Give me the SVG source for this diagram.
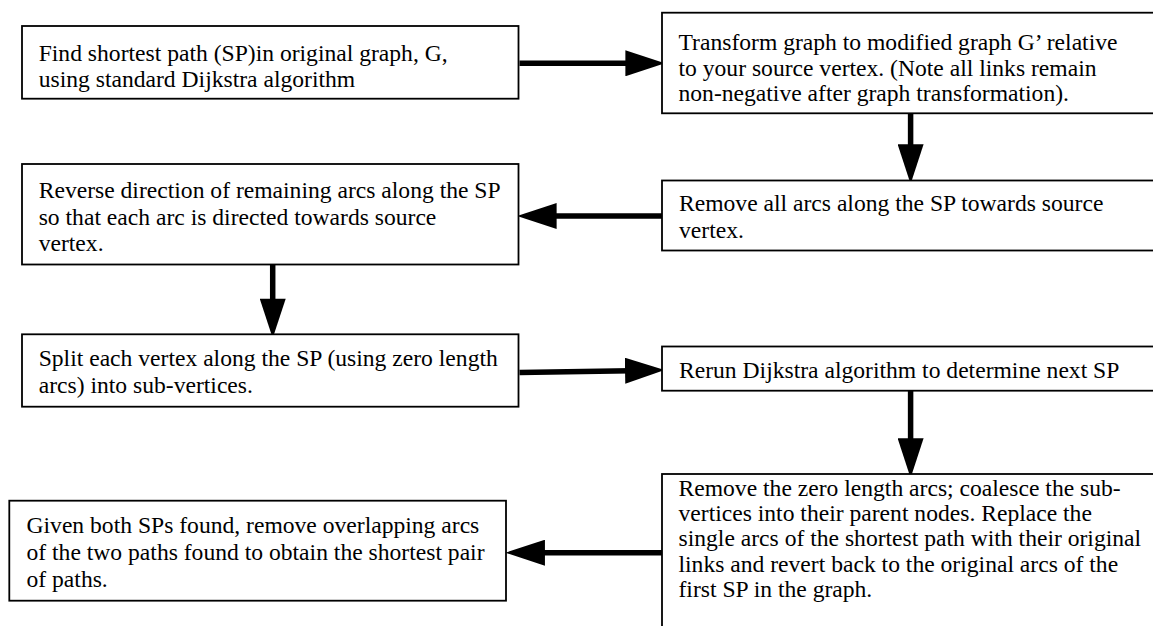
<svg xmlns="http://www.w3.org/2000/svg" width="1153" height="626" viewBox="0 0 1153 626">
<defs>
<style>
.box{fill:#fff;stroke:#000;stroke-width:1.8}
.t{font-family:"Liberation Serif","Times New Roman",serif;font-size:23.6px;fill:#000}
.c{fill:none;stroke:#000;stroke-width:5.5}
</style>
<marker id="ah" markerUnits="userSpaceOnUse" markerWidth="40" markerHeight="26" viewBox="0 0 35 23" refX="5" refY="11.5" orient="auto">
<path d="M0,0 L35,11.5 L0,23 Z" fill="#000"/>
</marker>
</defs>
<rect width="1153" height="626" fill="#fff"/>
<g id="connectors">
<line class="c" x1="519.5" y1="63.3" x2="631" y2="63.3" marker-end="url(#ah)"/>
<line class="c" x1="910.6" y1="113.3" x2="910.6" y2="150" marker-end="url(#ah)"/>
<line class="c" x1="662" y1="216" x2="551" y2="216" marker-end="url(#ah)"/>
<line class="c" x1="272.7" y1="264.5" x2="272.7" y2="304.3" marker-end="url(#ah)"/>
<line class="c" x1="519.5" y1="372.6" x2="630.7" y2="370.7" marker-end="url(#ah)"/>
<line class="c" x1="910.6" y1="390.7" x2="910.6" y2="444" marker-end="url(#ah)"/>
<line class="c" x1="662" y1="552.7" x2="539.3" y2="552.7" marker-end="url(#ah)"/>
</g>
<g id="n1">
<rect class="box" x="22" y="26" width="496.5" height="72.7"/>
<text class="t" x="38.7" y="61">Find shortest path (SP)in original graph, G,</text>
<text class="t" x="38.7" y="86.5">using standard Dijkstra algorithm</text>
</g>
<g id="n2">
<rect class="box" x="662" y="12.7" width="500" height="100.6"/>
<text class="t" x="678.5" y="50">Transform graph to modified graph G’ relative</text>
<text class="t" x="678.5" y="75.7">to your source vertex. (Note all links remain</text>
<text class="t" x="678.5" y="101">non-negative after graph transformation).</text>
</g>
<g id="n3">
<rect class="box" x="662" y="180.5" width="500" height="70"/>
<text class="t" x="679" y="211">Remove all arcs along the SP towards source</text>
<text class="t" x="679" y="237.5">vertex.</text>
</g>
<g id="n4">
<rect class="box" x="22" y="164" width="496.5" height="100.5"/>
<text class="t" x="38.7" y="198">Reverse direction of remaining arcs along the SP</text>
<text class="t" x="38.7" y="224.7">so that each arc is directed towards source</text>
<text class="t" x="38.7" y="251.3">vertex.</text>
</g>
<g id="n5">
<rect class="box" x="22" y="334.3" width="496.5" height="72.4"/>
<text class="t" x="38.7" y="366.3">Split each vertex along the SP (using zero length</text>
<text class="t" x="38.7" y="392.8">arcs) into sub-vertices.</text>
</g>
<g id="n6">
<rect class="box" x="662" y="346.5" width="500" height="44.2"/>
<text class="t" x="679" y="378">Rerun Dijkstra algorithm to determine next SP</text>
</g>
<g id="n7">
<rect class="box" x="662" y="474" width="500" height="170"/>
<text class="t" x="678.5" y="495.5">Remove the zero length arcs; coalesce the sub-</text>
<text class="t" x="678.5" y="520.9">vertices into their parent nodes. Replace the</text>
<text class="t" x="678.5" y="546.3">single arcs of the shortest path with their original</text>
<text class="t" x="678.5" y="571.7">links and revert back to the original arcs of the</text>
<text class="t" x="678.5" y="597.1">first SP in the graph.</text>
</g>
<g id="n8">
<rect class="box" x="9.3" y="500.7" width="496.7" height="100"/>
<text class="t" x="26.5" y="533.3">Given both SPs found, remove overlapping arcs</text>
<text class="t" x="26.5" y="560">of the two paths found to obtain the shortest pair</text>
<text class="t" x="26.5" y="586.7">of paths.</text>
</g>
</svg>
